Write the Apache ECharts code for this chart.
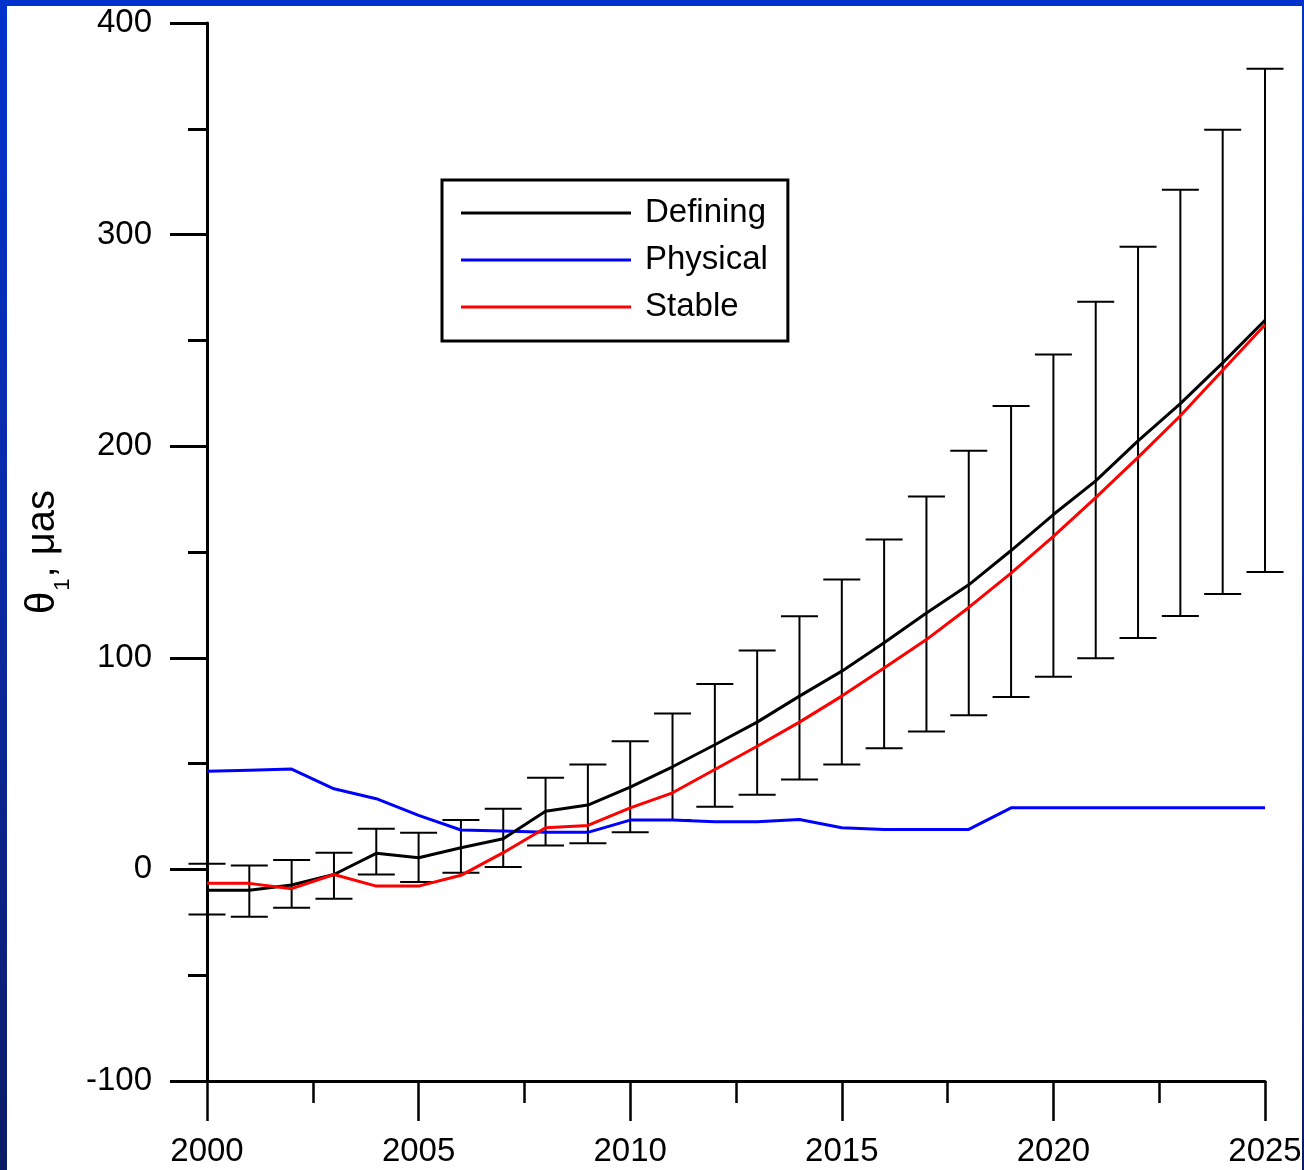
<!DOCTYPE html>
<html>
<head>
<meta charset="utf-8">
<script src="https://cdn.jsdelivr.net/npm/echarts@6/dist/echarts.min.js"></script>
<style>
  html, body { margin: 0; padding: 0; }
  body {
    width: 1304px; height: 1170px; overflow: hidden; position: relative;
    background: linear-gradient(to bottom, #0033cc 0%, #0a2aa8 45%, #0b1c66 100%);
  }
  #sheet {
    position: absolute; left: 7px; top: 6px; width: 1295px; height: 1164px;
    background: #ffffff;
  }
  #chart { position: absolute; left: 0; top: 0; width: 1304px; height: 1170px; }
</style>
</head>
<body>
<div id="sheet"></div>
<div id="chart"></div>
<script>
// Epochs (one value per year)
const years = [2000, 2001, 2002, 2003, 2004, 2005, 2006, 2007, 2008, 2009,
               2010, 2011, 2012, 2013, 2014, 2015, 2016, 2017, 2018, 2019,
               2020, 2021, 2022, 2023, 2024, 2025];

// theta_1 rotation, micro-arcseconds
const defining = [-9.9, -9.9, -7.4, -2.4, 7.6, 5.5, 10.2, 14.5, 27.5, 30.4,
                  38.9, 48.5, 58.9, 69.6, 81.9, 93.7, 107.1, 121.2, 134.5, 150.7,
                  167.7, 183.6, 202.5, 220.1, 239.4, 259.5];
const physical = [46.4, 46.9, 47.4, 38.1, 33.4, 25.5, 18.6, 18.1, 17.5, 17.5,
                  23.3, 23.3, 22.5, 22.5, 23.6, 19.7, 18.9, 18.9, 18.9, 29.1,
                  29.1, 29.1, 29.1, 29.1, 29.1, 29.1];
const stable   = [-6.6, -6.6, -9.1, -2.4, -7.9, -7.9, -2.8, 7.9, 19.7, 20.8,
                  29.1, 36.2, 47.2, 58.2, 69.6, 81.9, 95.2, 108.6, 123.8, 140.0,
                  157.4, 175.7, 194.7, 214.4, 235.9, 257.4];

// Uncertainty range of the Defining solution
const errLow  = [-21.3, -22.4, -18.1, -13.9, -2.4, -6.0, -1.6, 1.1, 11.3, 12.3,
                 17.6, 23.3, 29.6, 35.3, 42.5, 49.6, 57.3, 65.2, 72.9, 81.5,
                 91.0, 99.8, 109.4, 119.8, 130.2, 140.6];
const errHigh = [2.7, 1.9, 4.4, 7.9, 19.2, 17.3, 23.3, 28.7, 43.3, 49.6,
                 60.6, 73.7, 87.6, 103.4, 119.6, 137.0, 155.9, 176.2, 197.9, 219.0,
                 243.3, 268.3, 294.2, 321.2, 349.5, 378.4];

const FONT = "'Liberation Sans', Arial, Helvetica, sans-serif";
const pairs = (vals) => years.map((y, i) => [y, vals[i]]);

const chart = echarts.init(document.getElementById('chart'), null, { renderer: 'canvas' });

chart.setOption({
  backgroundColor: 'transparent',
  animation: false,
  grid: { left: 207, right: 39, top: 23, bottom: 89, containLabel: false, outerBoundsMode: 'none' },
  legend: {
    orient: 'vertical',
    left: 442, top: 180,
    borderColor: '#000', borderWidth: 3, borderRadius: 0,
    backgroundColor: '#fff',
    padding: [15, 20, 16, 19],
    icon: 'rect',
    itemWidth: 170, itemHeight: 3, itemGap: 11,
    selectedMode: false,
    textStyle: { fontFamily: FONT, fontSize: 33, color: '#000', lineHeight: 36, padding: [0, 0, 0, 9] },
    data: ['Defining', 'Physical', 'Stable']
  },
  xAxis: {
    type: 'value', min: 2000, max: 2025, interval: 5,
    axisLine: { onZero: false, lineStyle: { color: '#000', width: 3 } },
    axisTick: { show: true, inside: false, length: 40, lineStyle: { color: '#000', width: 2.5 } },
    minorTick: { show: true, splitNumber: 2, length: 22, lineStyle: { color: '#000', width: 2.5 } },
    axisLabel: { fontFamily: FONT, fontSize: 33, color: '#000', margin: 54, formatter: (v) => String(v) },
    splitLine: { show: false }, minorSplitLine: { show: false }
  },
  yAxis: {
    type: 'value', min: -100, max: 400, interval: 100,
    name: '{a|θ}{b|1}{a|, μas}',
    nameLocation: 'middle', nameGap: 144, nameRotate: 90,
    nameMoveOverlap: false,
    nameTextStyle: {
      rich: {
        a: { fontFamily: FONT, fontSize: 40, lineHeight: 40, color: '#000', verticalAlign: 'top' },
        b: { fontFamily: FONT, fontSize: 22, lineHeight: 22, color: '#000', verticalAlign: 'top', padding: [29, 1, 0, 1] }
      }
    },
    axisLine: { show: true, onZero: false, lineStyle: { color: '#000', width: 3 } },
    axisTick: { show: true, inside: false, length: 37, lineStyle: { color: '#000', width: 3 } },
    minorTick: { show: true, splitNumber: 2, length: 19, lineStyle: { color: '#000', width: 3 } },
    axisLabel: { fontFamily: FONT, fontSize: 33, color: '#000', margin: 55, padding: [4, 0, 0, 0] },
    splitLine: { show: false }, minorSplitLine: { show: false }
  },
  series: [
    {
      name: 'Uncertainty',
      type: 'custom',
      z: 1,
      data: years.map((y, i) => [y, errLow[i], errHigh[i]]),
      encode: { x: 0, y: [1, 2] },
      renderItem: function (params, api) {
        const lo = api.coord([api.value(0), api.value(1)]);
        const hi = api.coord([api.value(0), api.value(2)]);
        const half = 18.5;
        const style = { stroke: '#000', lineWidth: 2, fill: null };
        return {
          type: 'group',
          children: [
            { type: 'line', shape: { x1: hi[0], y1: hi[1], x2: lo[0], y2: lo[1] }, style: style },
            { type: 'line', shape: { x1: hi[0] - half, y1: hi[1], x2: hi[0] + half, y2: hi[1] }, style: style },
            { type: 'line', shape: { x1: lo[0] - half, y1: lo[1], x2: lo[0] + half, y2: lo[1] }, style: style }
          ]
        };
      }
    },
    {
      name: 'Defining', type: 'line', z: 3, symbol: 'none', showSymbol: false, data: pairs(defining),
      lineStyle: { color: '#000000', width: 3 }, itemStyle: { color: '#000000' }
    },
    {
      name: 'Physical', type: 'line', z: 2, symbol: 'none', showSymbol: false, data: pairs(physical),
      lineStyle: { color: '#0000ff', width: 3 }, itemStyle: { color: '#0000ff' }
    },
    {
      name: 'Stable', type: 'line', z: 4, symbol: 'none', showSymbol: false, data: pairs(stable),
      lineStyle: { color: '#ff0000', width: 3 }, itemStyle: { color: '#ff0000' }
    }
  ]
});
</script>
</body>
</html>
